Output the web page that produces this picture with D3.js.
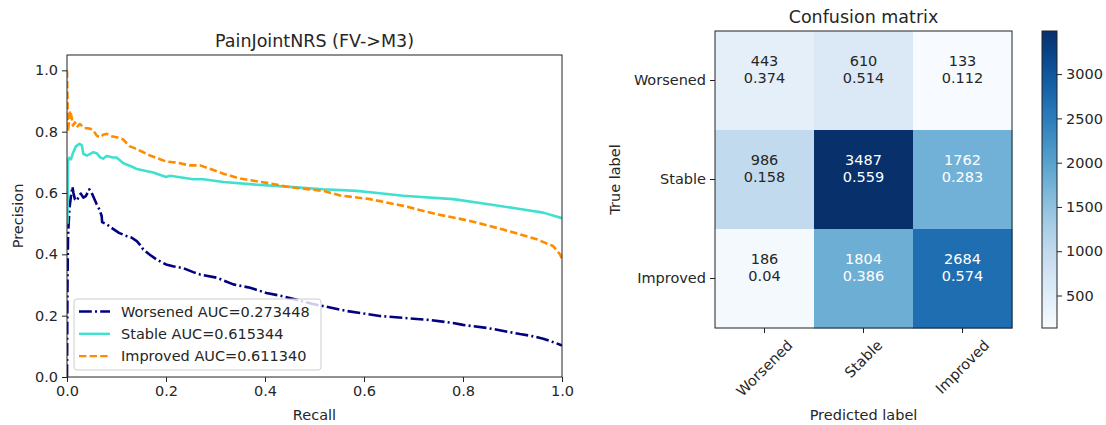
<!DOCTYPE html>
<html><head><meta charset="utf-8">
<script src="https://cdn.jsdelivr.net/npm/d3@7"></script>
<style>
html,body{margin:0;padding:0;background:#fff;}
text{font-family:"DejaVu Sans",sans-serif;fill:#262626;}
</style></head>
<body><svg id="chart" width="1106" height="425"></svg>
<script>
// ---------- data ----------
const prTitle = "PainJointNRS (FV->M3)";
const seriesNames = ["Worsened", "Stable", "Improved"];
const seriesAUC = ["0.273448", "0.615344", "0.611340"];
const prTicks = [0, 0.2, 0.4, 0.6, 0.8, 1.0];

const worsenedPR = [[0,0],[0.001,0.30],[0.002,0.45],[0.003,0.49],[0.005,0.55],[0.008,0.59],[0.011,0.62],[0.013,0.60],[0.016,0.58],[0.02,0.575],[0.024,0.59],[0.028,0.598],[0.033,0.585],[0.038,0.59],[0.045,0.612],[0.05,0.60],[0.054,0.585],[0.06,0.563],[0.066,0.545],[0.07,0.525],[0.071,0.505],[0.08,0.498],[0.093,0.483],[0.105,0.47],[0.12,0.46],[0.13,0.455],[0.141,0.443],[0.148,0.43],[0.154,0.416],[0.168,0.398],[0.181,0.383],[0.2,0.367],[0.214,0.361],[0.235,0.355],[0.255,0.342],[0.269,0.334],[0.302,0.324],[0.336,0.302],[0.37,0.291],[0.403,0.274],[0.437,0.263],[0.497,0.238],[0.566,0.215],[0.632,0.199],[0.7,0.19],[0.733,0.186],[0.78,0.176],[0.8,0.17],[0.848,0.16],[0.869,0.154],[0.915,0.14],[0.935,0.135],[0.962,0.125],[0.985,0.112],[1.0,0.103]];
const stablePR = [[0.001,0.50],[0.002,0.70],[0.004,0.715],[0.008,0.71],[0.012,0.73],[0.018,0.752],[0.025,0.76],[0.03,0.755],[0.033,0.728],[0.04,0.722],[0.046,0.727],[0.053,0.733],[0.06,0.73],[0.067,0.716],[0.073,0.712],[0.08,0.721],[0.093,0.716],[0.1,0.716],[0.114,0.697],[0.134,0.684],[0.141,0.678],[0.174,0.667],[0.2,0.652],[0.208,0.656],[0.255,0.645],[0.275,0.645],[0.316,0.636],[0.384,0.627],[0.45,0.62],[0.517,0.612],[0.585,0.607],[0.632,0.599],[0.679,0.591],[0.78,0.58],[0.848,0.564],[0.915,0.548],[0.962,0.536],[1.0,0.518]];
const improvedPR = [[0,1.0],[0.001,0.90],[0.002,0.80],[0.004,0.83],[0.006,0.868],[0.009,0.85],[0.012,0.82],[0.016,0.83],[0.02,0.815],[0.026,0.825],[0.035,0.812],[0.046,0.81],[0.053,0.805],[0.06,0.787],[0.067,0.782],[0.073,0.79],[0.08,0.793],[0.09,0.785],[0.1,0.782],[0.113,0.775],[0.127,0.752],[0.134,0.748],[0.154,0.733],[0.168,0.722],[0.188,0.71],[0.2,0.703],[0.222,0.699],[0.248,0.69],[0.269,0.69],[0.316,0.663],[0.35,0.647],[0.404,0.633],[0.45,0.619],[0.517,0.607],[0.552,0.592],[0.612,0.58],[0.679,0.558],[0.747,0.531],[0.814,0.509],[0.881,0.481],[0.949,0.449],[0.982,0.427],[0.996,0.40],[1.0,0.385]];

const cmTitle = "Confusion matrix";
const cmLabels = ["Worsened", "Stable", "Improved"];
const cmCounts = [[443, 610, 133], [986, 3487, 1762], [186, 1804, 2684]];
const cmRates = [["0.374", "0.514", "0.112"], ["0.158", "0.559", "0.283"], ["0.04", "0.386", "0.574"]];
const cbTicks = [500, 1000, 1500, 2000, 2500, 3000];

// ---------- setup ----------
const svg = d3.select("#chart");
svg.append("rect").attr("width", 1106).attr("height", 425).attr("fill", "#fff");
const FS = 14.5;

// ---------- PR plot ----------
const L = {x0: 67, x1: 562, y0: 55, y1: 377};
const x = d3.scaleLinear().domain([0, 1]).range([L.x0, L.x1]);
const y = d3.scaleLinear().domain([0, 1.05]).range([L.y1, L.y0]);
const pr = svg.append("g");

const clipId = "prclip";
svg.append("defs").append("clipPath").attr("id", clipId)
  .append("rect").attr("x", L.x0).attr("y", L.y0).attr("width", L.x1 - L.x0).attr("height", L.y1 - L.y0);

const line = d3.line().x(d => x(d[0])).y(d => y(d[1]));
const styles = [
  {data: worsenedPR, color: "#000080", dash: "12.8,3.2,2,3.2"},
  {data: stablePR, color: "#40E0D0", dash: null},
  {data: improvedPR, color: "#FF8C00", dash: "7.4,3.2"}
];
const lines = pr.append("g").attr("clip-path", `url(#${clipId})`);
styles.forEach(s => {
  lines.append("path").datum(s.data).attr("d", line)
    .attr("fill", "none").attr("stroke", s.color).attr("stroke-width", 2.6)
    .attr("stroke-dasharray", s.dash).attr("stroke-linejoin", "round");
});

const xAxis = pr.append("g").attr("transform", `translate(0,${L.y1})`)
  .call(d3.axisBottom(x).tickValues(prTicks).tickFormat(d3.format(".1f")).tickSize(5).tickPadding(4));
const yAxis = pr.append("g").attr("transform", `translate(${L.x0},0)`)
  .call(d3.axisLeft(y).tickValues(prTicks).tickFormat(d3.format(".1f")).tickSize(5).tickPadding(4));
[xAxis, yAxis].forEach(a => {
  a.select(".domain").remove();
  a.selectAll("line").attr("stroke", "#222");
  a.selectAll("text").attr("font-size", FS).attr("font-family", "DejaVu Sans").style("fill", "#262626");
});
pr.append("rect").attr("x", L.x0).attr("y", L.y0).attr("width", L.x1 - L.x0).attr("height", L.y1 - L.y0)
  .attr("fill", "none").attr("stroke", "#222").attr("stroke-width", 1);

pr.append("text").attr("x", (L.x0 + L.x1) / 2).attr("y", 47).attr("text-anchor", "middle")
  .attr("font-size", 17.5).text(prTitle);
pr.append("text").attr("x", (L.x0 + L.x1) / 2).attr("y", 420).attr("text-anchor", "middle")
  .attr("font-size", FS).text("Recall");
pr.append("text").attr("transform", `translate(23,${(L.y0 + L.y1) / 2}) rotate(-90)`).attr("text-anchor", "middle")
  .attr("font-size", FS).text("Precision");

// legend
const lg = pr.append("g");
lg.append("rect").attr("x", 74).attr("y", 299).attr("width", 247).attr("height", 71).attr("rx", 3)
  .attr("fill", "#fff").attr("fill-opacity", 0.8).attr("stroke", "#ccc").attr("stroke-width", 1);
styles.forEach((s, i) => {
  const yy = 311.5 + i * 22.3;
  lg.append("line").attr("x1", 79).attr("x2", 110).attr("y1", yy).attr("y2", yy)
    .attr("stroke", s.color).attr("stroke-width", 2.4).attr("stroke-dasharray", s.dash);
  lg.append("text").attr("x", 121).attr("y", yy + 5).attr("font-size", FS)
    .text(`${seriesNames[i]} AUC=${seriesAUC[i]}`);
});

// ---------- confusion matrix ----------
const C = {x0: 715, x1: 1012, y0: 31, y1: 328};
const cx = d3.scaleBand().domain(cmLabels).range([C.x0, C.x1]);
const cy = d3.scaleBand().domain(cmLabels).range([C.y0, C.y1]);
const flat = cmCounts.flat();
const vmin = d3.min(flat), vmax = d3.max(flat);
const color = d3.scaleSequential(d3.interpolateBlues).domain([vmin, vmax]);
const cm = svg.append("g");
const thresh = vmax / 2;
cmCounts.forEach((row, i) => {
  row.forEach((v, j) => {
    const xx = cx(cmLabels[j]), yy = cy(cmLabels[i]);
    cm.append("rect").attr("x", xx).attr("y", yy).attr("width", cx.bandwidth() + 0.5).attr("height", cy.bandwidth() + 0.5)
      .attr("fill", color(v));
    const mid = xx + cx.bandwidth() / 2, my = yy + cy.bandwidth() / 2;
    const fc = v > thresh ? "#ffffff" : "#262626";
    cm.append("text").attr("x", mid).attr("y", my - 15).attr("text-anchor", "middle").attr("font-size", FS)
      .style("fill", fc).text(v);
    cm.append("text").attr("x", mid).attr("y", my + 2.5).attr("text-anchor", "middle").attr("font-size", FS)
      .style("fill", fc).text(cmRates[i][j]);
  });
});
cm.append("rect").attr("x", C.x0).attr("y", C.y0).attr("width", C.x1 - C.x0).attr("height", C.y1 - C.y0)
  .attr("fill", "none").attr("stroke", "#222").attr("stroke-width", 1);

const cyAxis = cm.append("g").attr("transform", `translate(${C.x0},0)`)
  .call(d3.axisLeft(cy).tickSize(5).tickPadding(4));
cyAxis.select(".domain").remove();
cyAxis.selectAll("line").attr("stroke", "#222");
cyAxis.selectAll("text").attr("font-size", FS).attr("font-family", "DejaVu Sans").style("fill", "#262626");

const cxAxis = cm.append("g").attr("transform", `translate(0,${C.y1})`)
  .call(d3.axisBottom(cx).tickSize(5).tickFormat(""));
cxAxis.select(".domain").remove();
cxAxis.selectAll("line").attr("stroke", "#222");
cmLabels.forEach(lab => {
  const t = cm.append("text").attr("font-size", FS).attr("text-anchor", "middle")
    .attr("dominant-baseline", "central").text(lab);
  const w = t.node().getComputedTextLength();
  const h = FS * 1.1;
  const half = (w + h) * Math.SQRT1_2 / 2;
  t.attr("transform", `translate(${cx(lab) + cx.bandwidth() / 2},${C.y1 + 9 + half}) rotate(-45)`);
});

cm.append("text").attr("x", (C.x0 + C.x1) / 2).attr("y", 23).attr("text-anchor", "middle")
  .attr("font-size", 17.5).text(cmTitle);
cm.append("text").attr("x", (C.x0 + C.x1) / 2).attr("y", 420).attr("text-anchor", "middle")
  .attr("font-size", FS).text("Predicted label");
cm.append("text").attr("transform", `translate(620,${(C.y0 + C.y1) / 2}) rotate(-90)`).attr("text-anchor", "middle")
  .attr("font-size", FS).text("True label");

// ---------- colorbar ----------
const CB = {x0: 1042, x1: 1057, y0: 31, y1: 328};
const cbScale = d3.scaleLinear().domain([vmin, vmax]).range([CB.y1, CB.y0]);
const grad = svg.select("defs").append("linearGradient").attr("id", "cbgrad")
  .attr("x1", 0).attr("y1", 1).attr("x2", 0).attr("y2", 0);
d3.range(0, 1.0001, 0.02).forEach(t => {
  grad.append("stop").attr("offset", t).attr("stop-color", color(vmin + t * (vmax - vmin)));
});
svg.append("rect").attr("x", CB.x0).attr("y", CB.y0).attr("width", CB.x1 - CB.x0).attr("height", CB.y1 - CB.y0)
  .attr("fill", "url(#cbgrad)").attr("stroke", "#222").attr("stroke-width", 1);
const cbAxis = svg.append("g").attr("transform", `translate(${CB.x1},0)`)
  .call(d3.axisRight(cbScale).tickValues(cbTicks).tickFormat(d3.format("d")).tickSize(5).tickPadding(4));
cbAxis.select(".domain").remove();
cbAxis.selectAll("line").attr("stroke", "#222");
cbAxis.selectAll("text").attr("font-size", FS).attr("font-family", "DejaVu Sans").style("fill", "#262626");
</script>
</body></html>
